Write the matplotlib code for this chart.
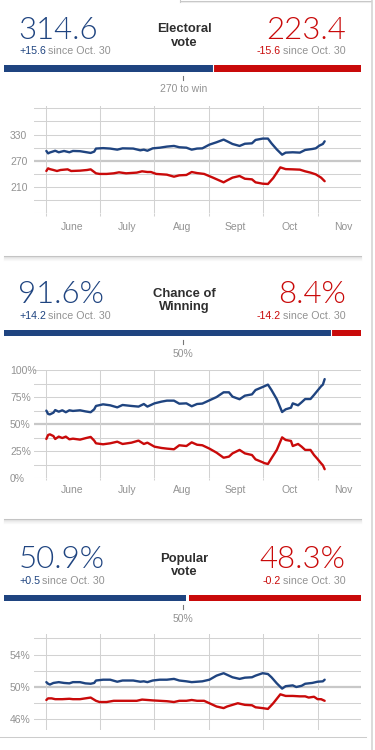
import numpy as np
import matplotlib
matplotlib.use("Agg")
import matplotlib.pyplot as plt
import matplotlib.transforms as mtransforms
from matplotlib.lines import Line2D

# ---------------- data ----------------
start_date = np.datetime64('2012-06-01')

ev_blue_days = [0, 1, 2, 5, 7, 10, 13, 15, 19, 22, 25, 27, 28, 32, 36, 40, 43, 49, 53, 55, 57, 60, 64, 68, 72, 75, 79, 82, 85, 88,
                92, 96, 100, 102, 105, 109, 112, 116, 118, 122, 125, 127, 130, 133, 135, 139, 143, 146, 150, 152, 154, 156, 157]
ev_blue = [292.5, 287, 289, 293, 289.5, 292.5, 289.5, 292.5, 292, 290, 288, 291, 298, 299, 298, 295.5, 298.5, 298, 294, 295.5, 293,
           298.5, 300, 302.5, 304, 301, 300, 295.5, 298, 298.5, 307, 312.4, 318.5, 314.6, 308.5, 304, 309, 310, 317.7, 320.8, 320.8,
           310, 296, 284, 288.7, 289.5, 288.7, 294.8, 297, 298.6, 304.7, 308.5, 314.6]
ev_red_days = [0, 1, 2, 4, 6, 8, 12, 14, 19, 23, 25, 28, 30, 34, 38, 41, 45, 51, 54, 57, 59, 62, 68, 72, 75, 79, 82, 85, 89, 94,
               100, 102, 105, 109, 112, 116, 118, 122, 125, 128, 132, 135, 139, 143, 146, 149, 152, 155, 157]
ev_red = [246.7, 252.8, 251, 249, 246.7, 249, 250.5, 246.7, 247.5, 249, 250.5, 241.4, 240, 240, 241.4, 243.7, 241.4, 243, 246,
          244.4, 244.4, 240, 238.3, 233.7, 236.8, 237.6, 244.4, 242, 240, 231.5, 220.8, 225.3, 231.5, 235.3, 229, 227.6, 220.8,
          217.7, 217, 230.7, 255, 251, 250.5, 249.8, 246, 243, 239, 231.5, 223.4]

win_days = [0, 1, 2, 4, 5, 7, 9, 11, 13, 15, 19, 22, 25, 27, 28, 32, 36, 40, 43, 48, 52, 55, 57, 61, 65, 68, 72, 75, 79, 82, 85,
            88, 92, 96, 100, 103, 105, 109, 112, 116, 118, 122, 123, 125, 127, 130, 133, 135, 138, 139, 142, 144, 146, 149, 151,
            153, 155, 156, 157]
win_blue = [62.5, 59.4, 59, 60.6, 63, 61.5, 62.8, 61, 62.8, 62.2, 62.8, 61.8, 61, 63.7, 66.8, 68.3, 67.4, 65.5, 67.7, 66.8, 66.2,
            68.6, 66.2, 69.2, 70.8, 71.7, 71.7, 68.9, 69.2, 66.5, 68.6, 69, 72, 75, 79.4, 79.4, 75.4, 73, 76.3, 77.5, 81.5, 84.3,
            85, 86.5, 81.5, 73, 61.2, 63.7, 65.2, 69.2, 67.4, 70.2, 73.2, 73.2, 77, 81, 85, 86.5, 91.6]
win_red = [36.3, 40, 40.6, 39, 36.3, 38.5, 37.2, 38.5, 36, 36.6, 35.7, 37, 38.2, 34.8, 32.3, 31.4, 32.3, 33.8, 31.7, 32.9, 34.8,
           31.7, 32.9, 29.2, 28, 27.4, 26.8, 30.5, 29.8, 33.2, 31, 30.5, 27.4, 23.7, 19, 20, 23, 26.2, 23, 21.5, 17.5, 14.8, 14,
           13.2, 18.5, 26.2, 37.8, 35.4, 34.5, 29.8, 31.7, 29.2, 26.2, 26.2, 21.5, 17.8, 13.8, 12, 8.4]

pop_blue_days = [0, 1, 2, 4, 7, 10, 13, 15, 19, 22, 25, 27, 28, 32, 36, 40, 43, 49, 53, 55, 57, 60, 64, 68, 72, 75, 79, 82, 85, 88,
                 92, 96, 100, 102, 105, 109, 112, 116, 118, 122, 125, 127, 130, 133, 135, 139, 141, 144, 146, 150, 153, 156, 157]
pop_blue = [50.6, 50.4, 50.3, 50.5, 50.6, 50.5, 50.45, 50.6, 50.6, 50.45, 50.4, 50.5, 50.8, 50.9, 50.9, 50.65, 50.8, 50.8, 50.65,
            50.7, 50.6, 50.8, 50.9, 50.9, 51.0, 50.8, 50.7, 50.6, 50.65, 50.7, 50.9, 51.4, 51.7, 51.5, 51.2, 51.0, 51.15, 51.2, 51.4,
            51.7, 51.6, 51.2, 50.45, 49.8, 50.1, 50.2, 50.0, 50.15, 50.4, 50.5, 50.65, 50.7, 50.9]
pop_red_days = [0, 1, 3, 5, 9, 13, 15, 19, 22, 25, 28, 30, 34, 38, 42, 45, 51, 54, 57, 60, 64, 68, 72, 75, 79, 82, 85, 89, 92, 96,
                100, 102, 105, 108, 112, 116, 118, 122, 125, 128, 132, 135, 139, 143, 146, 148, 151, 153, 155, 157]
pop_red = [48.4, 48.6, 48.6, 48.5, 48.5, 48.55, 48.5, 48.5, 48.6, 48.7, 48.3, 48.15, 48.15, 48.3, 48.3, 48.3, 48.3, 48.45, 48.4,
           48.35, 48.3, 48.25, 48.15, 48.3, 48.3, 48.4, 48.3, 48.3, 48.0, 47.6, 47.4, 47.6, 47.8, 48.0, 47.8, 47.75, 47.5, 47.4,
           47.3, 48.0, 49.1, 48.9, 48.9, 48.85, 48.85, 48.7, 48.8, 48.5, 48.5, 48.3]

month_starts = ['2012-06-01', '2012-07-01', '2012-08-01', '2012-09-01', '2012-10-01', '2012-11-01']
month_mids = ['2012-06-15T12', '2012-07-16T12', '2012-08-16T12', '2012-09-15T12', '2012-10-16T12', '2012-11-15T12']
month_labels = ['June', 'July', 'Aug', 'Sept', 'Oct', 'Nov']

panels = [
    dict(title='Electoral\nvote', blue_val='314.6', red_val='223.4', blue_chg='+15.6', red_chg='-15.6',
         blue=314.6, red=223.4, total=538, thr=270, thr_label='270 to win'),
    dict(title='Chance of\nWinning', blue_val='91.6%', red_val='8.4%', blue_chg='+14.2', red_chg='-14.2',
         blue=91.6, red=8.4, total=100, thr=50, thr_label='50%'),
    dict(title='Popular\nvote', blue_val='50.9%', red_val='48.3%', blue_chg='+0.5', red_chg='-0.2',
         blue=50.9, red=48.3, total=100, thr=50, thr_label='50%'),
]

ev_grid = [150, 180, 210, 240, 270, 300, 330, 360, 390]
ev_labels = [210, 270, 330]
win_grid = [0, 12.5, 25, 37.5, 50, 62.5, 75, 87.5, 100]
win_labels = [0, 25, 50, 75, 100]
pop_grid = [46, 48, 50, 52, 54, 56]
pop_labels = [46, 50, 54]

# ---------------- style ----------------
BLUE = '#1f4480'
RED = '#c90a0a'
GRAY = '#929292'
GRID = '#d2d2d2'
DARK = '#2e2e2e'
SANS = ['Liberation Sans', 'DejaVu Sans']
BIG = ['Lato', 'DejaVu Sans']

W, H = 375, 750
fig = plt.figure(figsize=(W / 100, H / 100), dpi=100)
fig.patch.set_facecolor('white')


def ax_px(l, t, r, b):
    return fig.add_axes([l / W, 1 - b / H, (r - l) / W, (b - t) / H])


def fy(y):
    return 1 - y / H


def ftext(x, y, s, **kw):
    return fig.text(x / W, fy(y), s, **kw)


renderer = fig.canvas.get_renderer()


def header(p, y0):
    # y0 = baseline of big numbers
    ftext(18.5, y0, p['blue_val'], color=BLUE, fontsize=22.5, family=BIG, fontweight=300, va='baseline', ha='left')
    ftext(345.5, y0, p['red_val'], color=RED, fontsize=22.5, family=BIG, fontweight=300, va='baseline', ha='right')
    yb = y0 + 15.3
    t1 = ftext(19, yb, p['blue_chg'], color=BLUE, fontsize=7.7, family=SANS, va='baseline', ha='left')
    bb = t1.get_window_extent(renderer)
    ftext(bb.x1 + 2.3, yb, 'since Oct. 30', color=GRAY, fontsize=7.7, family=SANS, va='baseline', ha='left')
    t2 = ftext(346, yb, 'since Oct. 30', color=GRAY, fontsize=7.7, family=SANS, va='baseline', ha='right')
    bb2 = t2.get_window_extent(renderer)
    ftext(bb2.x0 - 2.3, yb, p['red_chg'], color=RED, fontsize=7.7, family=SANS, va='baseline', ha='right')
    l1, l2 = p['title'].split('\n')
    ftext(184, y0 - 6.5, l1, color=DARK, fontsize=9.4, family=SANS, fontweight='bold', va='baseline', ha='center')
    ftext(184, y0 + 6.5, l2, color=DARK, fontsize=9.4, family=SANS, fontweight='bold', va='baseline', ha='center')
    # bar
    bt = y0 + 26.2
    ax = ax_px(4, bt, 361, bt + 6.6)
    ax.barh(0, p['blue'], left=0, height=1, color=BLUE)
    ax.barh(0, p['red'], left=p['total'] - p['red'], height=1, color=RED)
    if p['blue'] + p['red'] >= p['total'] - 0.01:
        ax.axvline(p['blue'], color='white', lw=0.8)
    ax.set_xlim(0, p['total'])
    ax.set_ylim(-0.5, 0.5)
    ax.axis('off')
    tr = mtransforms.blended_transform_factory(ax.transData, fig.transFigure)
    fig.add_artist(Line2D([p['thr'], p['thr']], [fy(bt + 10.5), fy(bt + 14.5)], transform=tr, color='#777777', lw=0.8))
    fig.text(p['thr'], fy(bt + 27), p['thr_label'], transform=tr, color=GRAY, fontsize=7.5, family=SANS,
             va='baseline', ha='center')


header(panels[0], 39)
header(panels[1], 303.3)
header(panels[2], 568.3)

xl = (start_date - np.timedelta64(163, 'h'), start_date + np.timedelta64(4260, 'h'))


def chart(box, ylim, grid_vals, label_vals, fmt, thr, series, tick_len, month_pad, show_months):
    ax = ax_px(*box)
    for s in ax.spines.values():
        s.set_visible(False)
    ax.set_xlim(*xl)
    ax.set_ylim(*ylim)
    for g in grid_vals:
        ax.axhline(g, color=GRID, lw=0.75, zorder=1)
    ax.axhline(thr, color='#c8c8c8', lw=1.6, zorder=1.5)
    ms = np.array(month_starts, dtype='datetime64[D]')
    ax.set_xticks(ms)
    ax.set_xticklabels([''] * len(ms))
    ax.grid(axis='x', color=GRID, lw=0.75, zorder=1)
    ax.tick_params(axis='x', which='major', length=tick_len, color=GRID, width=0.75, direction='out')
    mm = np.array(month_mids, dtype='datetime64[h]')
    ax.set_xticks(mm, minor=True)
    if show_months:
        ax.set_xticklabels(month_labels, minor=True)
    else:
        ax.set_xticklabels([''] * len(mm), minor=True)
    ax.tick_params(axis='x', which='minor', length=0, pad=month_pad, labelsize=7.5, labelcolor=GRAY)
    for lab in ax.get_xticklabels(minor=True):
        lab.set_family(SANS)
    ax.set_yticks(label_vals)
    ax.set_yticklabels([fmt(v) for v in label_vals])
    ax.tick_params(axis='y', length=0, pad=17.5, labelsize=7.5, labelcolor=GRAY)
    for lab in ax.get_yticklabels():
        lab.set_family(SANS)
        lab.set_horizontalalignment('left')
    for days, vals, col in series:
        d = start_date + np.array(days).astype('timedelta64[D]')
        ax.plot(d, vals, color=col, lw=1.7, solid_joinstyle='round', solid_capstyle='round', zorder=3)
    return ax


chart((34.3, 106, 361, 213.3), (150, 395.3), ev_grid, ev_labels, lambda v: f'{v}', 270,
      [(ev_blue_days, ev_blue, BLUE), (ev_red_days, ev_red, RED)], 2.5, 6.2, True)
chart((34.3, 370, 361, 478.3), (0, 100), win_grid, win_labels, lambda v: f'{v}%', 50,
      [(win_days, win_blue, BLUE), (win_days, win_red, RED)], 1.5, 5.0, True)
chart((34.3, 634, 361, 729.7), (44.74, 56.53), pop_grid, pop_labels, lambda v: f'{v}%', 50,
      [(pop_blue_days, pop_blue, BLUE), (pop_red_days, pop_red, RED)], 0, 5.0, False)


# ---------------- decorations ----------------
def hline(y, x0, x1, color, lw=0.75):
    fig.add_artist(Line2D([x0 / W, x1 / W], [fy(y), fy(y)], transform=fig.transFigure, color=color, lw=lw))


for ysep in (255.7, 519.3):
    hline(ysep, 4, 361, '#c4c4c4')
    for k, c in enumerate(['#e2e2e2', '#ececec', '#f3f3f3', '#f8f8f8']):
        hline(ysep + 1 + k, 4, 361, c)

hline(737.3, 0, 366, '#cccccc')
hline(1.0, 180, 371, '#c8c8c8')
hline(2.0, 180, 371, '#ececec')
fig.add_artist(Line2D([371.5 / W, 371.5 / W], [0, 1], transform=fig.transFigure, color='#d4d4d4', lw=1.2))
fig.add_artist(Line2D([180 / W, 180 / W], [fy(0), fy(1.5)], transform=fig.transFigure, color='#c8c8c8', lw=0.75))

fig.savefig('out.png', dpi=100, facecolor='white')
